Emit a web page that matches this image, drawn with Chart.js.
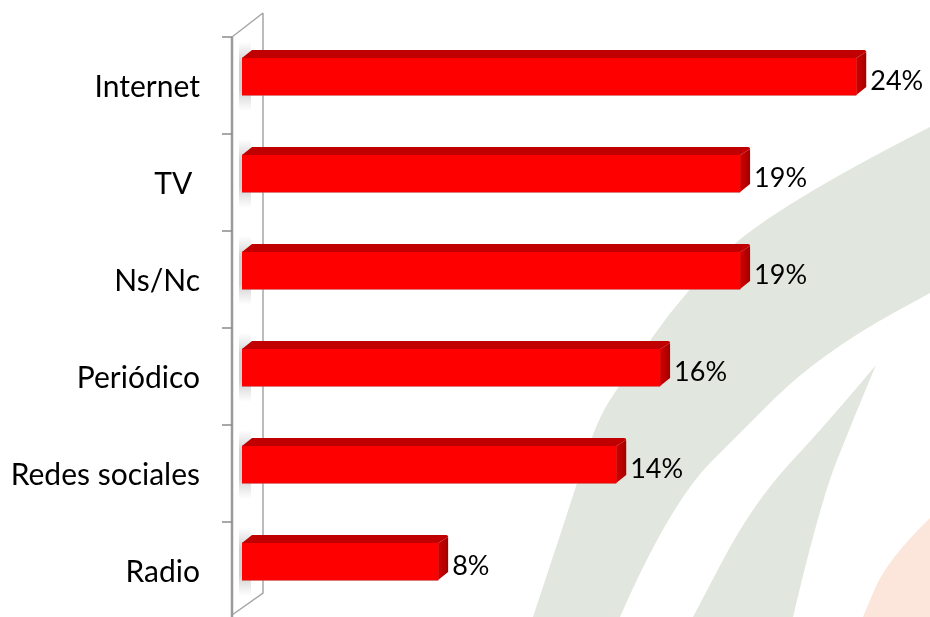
<!DOCTYPE html>
<html>
<head>
<meta charset="utf-8">
<script src="https://cdn.jsdelivr.net/npm/chart.js@4.4.1/dist/chart.umd.min.js"></script>
<style>
  html, body { margin: 0; padding: 0; background: #ffffff; }
  #wrap { width: 930px; height: 617px; position: relative; }
</style>
</head>
<body>
<div id="wrap"><canvas id="c" width="930" height="617"></canvas></div>
<script>
// ---- data ----
const categories = ["Internet", "TV ", "Ns/Nc", "Periódico", "Redes sociales", "Radio"];
const values = [23.8, 19.3, 19.3, 16.2, 14.5, 7.6];
const valueLabels = ["24%", "19%", "19%", "16%", "14%", "8%"];

const FONT = "Lato, 'Open Sans', sans-serif";
const DX = 10, DY = 8; // 3D depth offsets

function smoothPath(ctx, pts, moveFirst) {
  if (moveFirst) ctx.moveTo(pts[0][0], pts[0][1]); else ctx.lineTo(pts[0][0], pts[0][1]);
  for (let i = 1; i < pts.length - 1; i++) {
    const mx = (pts[i][0] + pts[i + 1][0]) / 2, my = (pts[i][1] + pts[i + 1][1]) / 2;
    ctx.quadraticCurveTo(pts[i][0], pts[i][1], mx, my);
  }
  const l = pts[pts.length - 1];
  ctx.lineTo(l[0], l[1]);
}

const backgroundPlugin = {
  id: 'bgWatermark',
  beforeDraw(chart) {
    const ctx = chart.ctx;
    ctx.save();
    ctx.fillStyle = '#ffffff';
    ctx.fillRect(0, 0, chart.width, chart.height);
    // outer grey band
    ctx.beginPath();
    smoothPath(ctx, [[930,127],[773,207],[683,293],[623,380],[597,420],[575,490],[533,617]], true);
    ctx.lineTo(620, 617);
    smoothPath(ctx, [[620,617],[670,503],[753,420],[795,378],[857,333],[930,293]], false);
    ctx.closePath();
    ctx.fillStyle = '#e1e6de';
    ctx.fill();
    // inner leaf
    ctx.beginPath();
    smoothPath(ctx, [[876,365],[830,420],[753,503],[693,617]], true);
    ctx.lineTo(793, 617);
    smoothPath(ctx, [[793,617],[820,503],[853,420],[876,365]], false);
    ctx.closePath();
    ctx.fill();
    // peach shape
    ctx.beginPath();
    smoothPath(ctx, [[930,518],[887,560],[863,617]], true);
    ctx.lineTo(930, 617);
    ctx.closePath();
    ctx.fillStyle = '#fce5da';
    ctx.fill();
    ctx.restore();
  }
};

const wallPlugin = {
  id: 'wall',
  beforeDatasetsDraw(chart) {
    const ctx = chart.ctx;
    const y = chart.scales.y;
    const band = y.getPixelForValue(1) - y.getPixelForValue(0);
    const top = y.getPixelForValue(0) - band / 2 + 9;
    const bottom = y.getPixelForValue(categories.length - 1) + band / 2 + 5;
    const fx = 232, bx = 263;
    ctx.save();
    ctx.beginPath();
    ctx.moveTo(fx, top); ctx.lineTo(bx, top - 24); ctx.lineTo(bx, bottom - 22); ctx.lineTo(fx, bottom);
    ctx.closePath();
    ctx.fillStyle = '#ffffff';
    ctx.fill();
    const meta = chart.getDatasetMeta(0);
    meta.data.forEach((el) => {
      const t = el.y - el.height / 2, b = el.y + el.height / 2;
      const g = ctx.createLinearGradient(0, t - 16, 0, b + 16);
      g.addColorStop(0, 'rgba(180,180,180,0)');
      g.addColorStop(0.3, 'rgba(170,170,170,0.55)');
      g.addColorStop(0.7, 'rgba(170,170,170,0.55)');
      g.addColorStop(1, 'rgba(180,180,180,0)');
      ctx.fillStyle = g;
      ctx.fillRect(239, t - 16, 12, b - t + 32);
    });
    ctx.strokeStyle = '#a6a6a6';
    ctx.lineWidth = 1.5;
    ctx.beginPath();
    ctx.moveTo(bx, top - 24); ctx.lineTo(bx, bottom - 22); ctx.lineTo(fx, bottom);
    ctx.moveTo(fx, top); ctx.lineTo(bx, top - 24);
    ctx.stroke();
    ctx.strokeStyle = '#9a9a9a';
    ctx.lineWidth = 2.5;
    ctx.beginPath();
    ctx.moveTo(fx, top); ctx.lineTo(fx, chart.height);
    ctx.stroke();
    ctx.lineWidth = 1.5;
    ctx.strokeStyle = '#8c8c8c';
    ctx.beginPath();
    for (let i = 0; i <= categories.length; i++) {
      const ty = y.getPixelForValue(0) - band / 2 + 9 + i * band;
      if (ty > chart.height) break;
      ctx.moveTo(222, ty); ctx.lineTo(fx, ty);
    }
    ctx.stroke();
    ctx.restore();
  }
};

const bar3dPlugin = {
  id: 'bar3d',
  afterDatasetsDraw(chart) {
    const ctx = chart.ctx;
    const meta = chart.getDatasetMeta(0);
    ctx.save();
    meta.data.forEach((el, i) => {
      const x0 = el.base, x1 = el.x;
      const t = el.y - el.height / 2, b = el.y + el.height / 2;
      ctx.beginPath();
      ctx.moveTo(x0, t); ctx.lineTo(x0 + DX, t - DY); ctx.lineTo(x1 + DX - 2, t - DY);
      ctx.quadraticCurveTo(x1 + DX, t - DY, x1 + DX, t - DY + 2);
      ctx.lineTo(x1, t);
      ctx.closePath();
      ctx.fillStyle = '#c00000';
      ctx.fill();
      const g = ctx.createLinearGradient(x1, 0, x1 + DX, 0);
      g.addColorStop(0, '#d40000');
      g.addColorStop(1, '#a00000');
      ctx.beginPath();
      ctx.moveTo(x1, t); ctx.lineTo(x1 + DX, t - DY + 2); ctx.lineTo(x1 + DX, b - DY);
      ctx.lineTo(x1, b);
      ctx.closePath();
      ctx.fillStyle = g;
      ctx.fill();
      ctx.strokeStyle = 'rgba(200,80,80,0.6)';
      ctx.lineWidth = 1;
      ctx.beginPath();
      ctx.moveTo(x0, b + 0.5); ctx.lineTo(x1, b + 0.5);
      ctx.stroke();
      ctx.fillStyle = '#000000';
      ctx.font = '27px ' + FONT;
      ctx.textAlign = 'left';
      ctx.textBaseline = 'alphabetic';
      ctx.fillText(valueLabels[i], x1 + DX + 4, el.y + 13);
    });
    ctx.restore();
  }
};

new Chart(document.getElementById('c'), {
  type: 'bar',
  data: {
    labels: categories,
    datasets: [{
      data: values,
      backgroundColor: '#ff0000',
      borderWidth: 0,
      barThickness: 37,
      categoryPercentage: 1,
      barPercentage: 1
    }]
  },
  plugins: [backgroundPlugin, wallPlugin, bar3dPlugin],
  options: {
    indexAxis: 'y',
    responsive: false,
    animation: false,
    devicePixelRatio: 1,
    layout: { padding: { top: 28, bottom: 7, right: 17, left: 0 } },
    plugins: { legend: { display: false }, tooltip: { enabled: false } },
    scales: {
      x: { display: false, min: 0, max: 26 },
      y: {
        border: { display: false },
        grid: { display: true, drawTicks: true, tickLength: 42, drawOnChartArea: false, color: 'rgba(0,0,0,0)' },
        ticks: {
          color: '#000000',
          font: { family: FONT, size: 30, lineHeight: 0.4 },
          padding: 0,
          labelOffset: 11
        },
        afterFit(scale) { scale.width = 242; scale.paddingTop = 0; scale.paddingBottom = 0; }
      }
    }
  }
});
</script>
</body>
</html>
